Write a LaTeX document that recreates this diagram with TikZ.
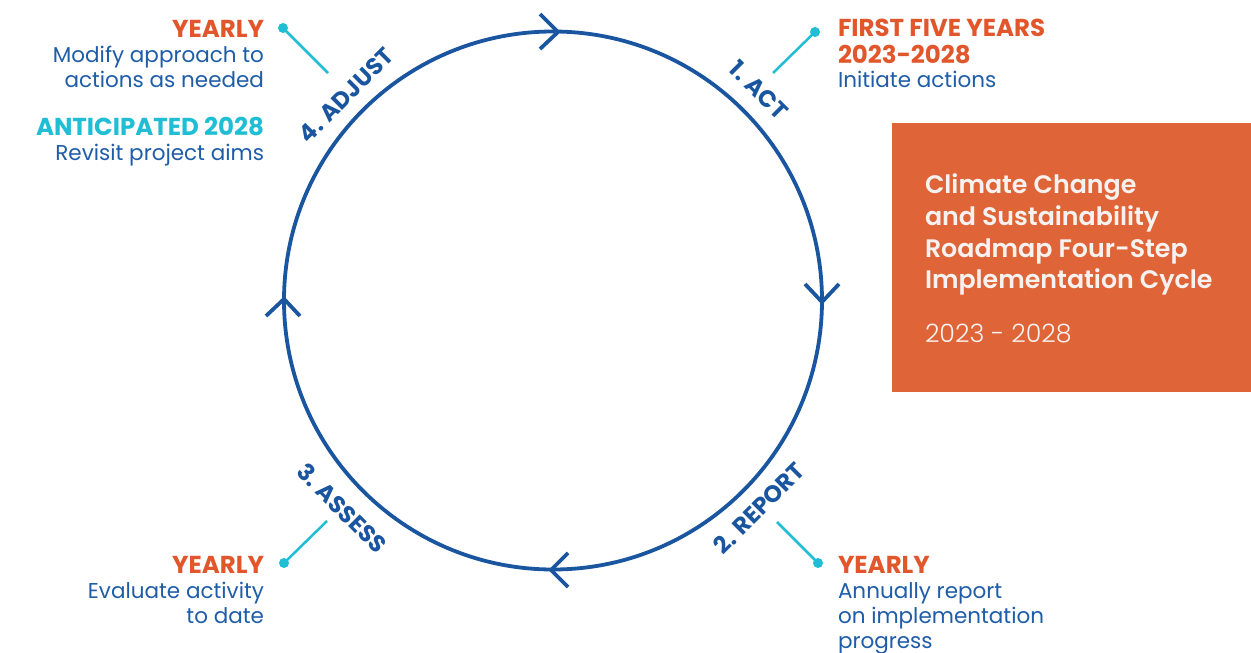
\documentclass[tikz,border=0pt]{standalone}
\usepackage{fontspec}
\setmainfont{Poppins}
\newfontfamily\popsemi{Poppins SemiBold}
\newfontfamily\poplight{Poppins Light}
\definecolor{orangeT}{HTML}{E2562C}
\definecolor{boxfill}{HTML}{DF6538}
\definecolor{blueT}{HTML}{1F5DA8}
\definecolor{ringblue}{HTML}{1A56A0}
\definecolor{tealc}{HTML}{20BED4}
\definecolor{boxtext}{HTML}{F7F2F0}
\begin{document}
\begin{tikzpicture}[x=1pt,y=-1pt,
  every node/.style={inner sep=0pt, outer sep=0pt},
  head/.style={font=\fontsize{24.5}{28}\selectfont\bfseries, text=orangeT},
  antic/.style={font=\fontsize{24.5}{28}\selectfont\bfseries, text=tealc},
  body/.style={font=\fontsize{21.5}{25}\selectfont, text=blueT},
  steplabel/.style={font=\fontsize{23.5}{27}\selectfont\bfseries, text=ringblue},
  ring/.style={draw=ringblue, line width=3.8pt},
  chev/.style={draw=ringblue, line width=3.8pt, line join=miter},
  leader/.style={draw=tealc, line width=2.5pt},
  dotc/.style={circle, fill=tealc, minimum size=10pt},
  boxtitle/.style={font=\fontsize{25.3}{32}\popsemi, text=boxtext},
  boxyear/.style={font=\fontsize{25.3}{32}\poplight, text=boxtext}]
\useasboundingbox (0,0) rectangle (1251,653);
\fill[white] (0,0) rectangle (1251,653);

% cycle ring
\node[circle, ring, minimum size=538pt] (cyc) at (553,300.5) {};

% chevrons (clockwise)
\coordinate (tipT) at (558,32);
\coordinate (tipR) at (822,302);
\coordinate (tipB) at (551,570);
\coordinate (tipL) at (284,299);
\draw[chev] (540,14) -- (tipT) -- (540,49);
\draw[chev] (805,284) -- (tipR) -- (839,284);
\draw[chev] (568,553) -- (tipB) -- (568,587);
\draw[chev] (266,316) -- (tipL) -- (300,316);

% step labels
\node[steplabel, rotate=-45] (sACT) at (759,90) {1. ACT};
\node[steplabel, rotate=45] (sREP) at (759,508) {2. REPORT};
\node[steplabel, rotate=-45] (sASS) at (342,508) {3. ASSESS};
\node[steplabel, rotate=45] (sADJ) at (346,95) {4. ADJUST};

% leaders
\node[dotc] (dTL) at (283,28) {};
\coordinate (eTL) at (328,73);
\draw[leader] (dTL.center) -- (eTL);
\node[dotc] (dTR) at (815,32) {};
\coordinate (eTR) at (773,73);
\draw[leader] (dTR.center) -- (eTR);
\node[dotc] (dBR) at (818,563) {};
\coordinate (eBR) at (777,522);
\draw[leader] (dBR.center) -- (eBR);
\node[dotc] (dBL) at (284,563) {};
\coordinate (eBL) at (327,521);
\draw[leader] (dBL.center) -- (eBL);

% top-left text
\node[head, anchor=base east] (tl1) at (264,37) {YEARLY};
\node[body, anchor=base east] (tl2) at (264,62) {Modify approach to};
\node[body, anchor=base east] (tl3) at (264,87) {actions as needed};
\node[antic, anchor=base east] (tl4) at (264,135) {ANTICIPATED 2028};
\node[body, anchor=base east] (tl5) at (264,160) {Revisit project aims};

% top-right text
\node[head, anchor=base west] (tr1) at (838,36) {FIRST FIVE YEARS};
\node[head, anchor=base west] (tr2) at (838,63) {2023-2028};
\node[body, anchor=base west] (tr3) at (838,87) {Initiate actions};

% bottom-right text
\node[head, anchor=base west] (br1) at (838,573) {YEARLY};
\node[body, anchor=base west] (br2) at (838,598) {Annually report};
\node[body, anchor=base west] (br3) at (838,623) {on implementation};
\node[body, anchor=base west] (br4) at (838,648) {progress};

% bottom-left text
\node[head, anchor=base east] (bl1) at (264,573) {YEARLY};
\node[body, anchor=base east] (bl2) at (264,598) {Evaluate activity};
\node[body, anchor=base east] (bl3) at (264,623) {to date};

% title box
\node[fill=boxfill, minimum width=359pt, minimum height=269pt, anchor=north west] (box) at (892,123) {};
\node[boxtitle, anchor=base west] (bx1) at (925,193) {Climate Change};
\node[boxtitle, anchor=base west] (bx2) at (925,225) {and Sustainability};
\node[boxtitle, anchor=base west] (bx3) at (925,257) {Roadmap Four-Step};
\node[boxtitle, anchor=base west] (bx4) at (925,288) {Implementation Cycle};
\node[boxyear, anchor=base west] (bx5) at (925,342) {2023 - 2028};
\end{tikzpicture}
\end{document}
